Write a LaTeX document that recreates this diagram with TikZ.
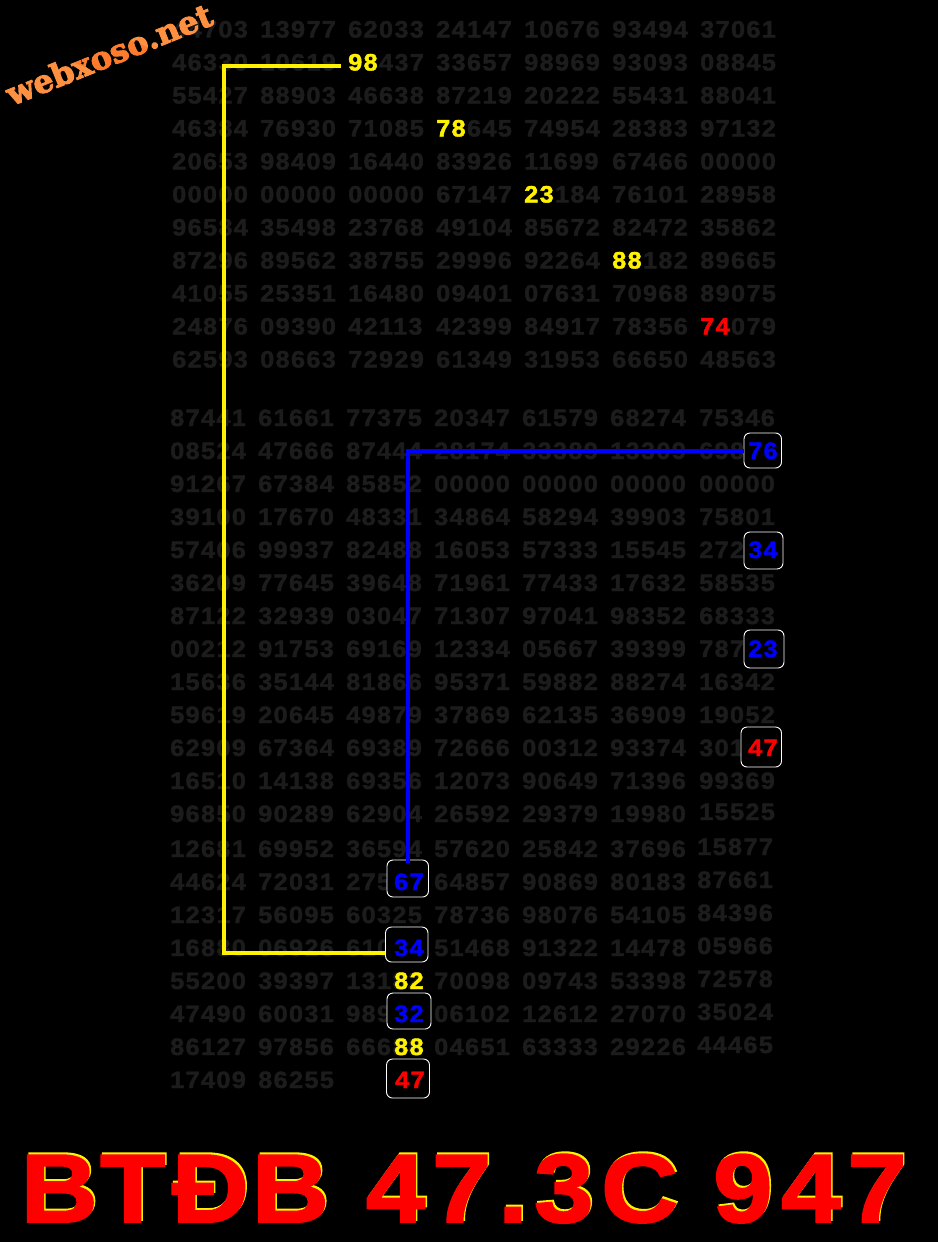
\documentclass[tikz,border=0pt]{standalone}
\usepackage{fontspec}
\usetikzlibrary{fadings}
\setmainfont{Liberation Sans}
\newfontfamily\gridfont{Liberation Sans}[LetterSpace=5.5,FakeStretch=1.07,FakeBold=1.7]
\newfontfamily\titlefont{Liberation Sans}[FakeStretch=1.1,FakeBold=2]
\newfontfamily\logofont{DejaVu Serif}[FakeBold=3]
\definecolor{griddim}{HTML}{1C1C1C}
\definecolor{logoorange}{HTML}{FF9040}
\definecolor{logodeep}{HTML}{FF681C}
\tikzset{
  dig/.style={anchor=base west,inner sep=0pt,font=\gridfont\bfseries\fontsize{23.7}{24}\selectfont},
  griddig/.style={dig,text=griddim},
  boxn/.style={draw=white,line width=0.9pt,fill=black,rounded corners=6pt,inner sep=0pt},
  yline/.style={draw=yellow,line width=4pt},
  bline/.style={draw=blue,line width=4pt},
  titletxt/.style={anchor=base west,inner sep=0pt,font=\titlefont\bfseries\fontsize{97}{97}\selectfont},
}
\newcommand{\hlbox}[9]{% name x1 y1 x2 y2 colour text tx baseline
  \node[boxn,minimum width={(#4-#2)*1pt},minimum height={(#5-#3)*1pt}] (#1) at ({(#2+#4)/2},{(#3+#5)/2}) {};
  \node[dig,text=#6] (#1t) at (#8,#9) {#7};
}
\newcommand{\titletext}{B\kern2.5ptT\kern6.5ptĐ\kern3ptB\kern7.4pt{} 4\kern6.7pt7\kern6.7pt.\kern6.4pt3\kern7.7ptC\kern5.4pt{} 9\kern8.7pt4\kern6.7pt7}
\begin{document}
\begin{tikzpicture}[x=1pt,y=-1pt]
\useasboundingbox (0,0) rectangle (938,1242);
\fill[black] (0,0) rectangle (938,1242);
% upper block
\foreach \line [count=\r] in {
 {44703,13977,62033,24147,10676,93494,37061},
 {46330,10619,98437,33657,98969,93093,08845},
 {55427,88903,46638,87219,20222,55431,88041},
 {46384,76930,71085,78645,74954,28383,97132},
 {20653,98409,16440,83926,11699,67466,00000},
 {00000,00000,00000,67147,23184,76101,28958},
 {96584,35498,23768,49104,85672,82472,35862},
 {87296,89562,38755,29996,92264,88182,89665},
 {41055,25351,16480,09401,07631,70968,89075},
 {24876,09390,42113,42399,84917,78356,74079},
 {62593,08663,72929,61349,31953,66650,48563}}{
  \foreach \v [count=\c] in \line {
    \node[griddig] (u\r-\c) at ({172+88*(\c-1)},{37.5+33*(\r-1)}) {\v};
  }
}
% lower block
\foreach \line/\by [count=\r] in {
 {87441,61661,77375,20347,61579,68274,75346}/426,
 {08524,47666,87444,28174,33389,13309,69876}/459,
 {91267,67384,85852,00000,00000,00000,00000}/492,
 {39100,17670,48331,34864,58294,39903,75801}/525,
 {57406,99937,82488,16053,57333,15545,27234}/558,
 {36209,77645,39648,71961,77433,17632,58535}/591,
 {87122,32939,03047,71307,97041,98352,68333}/624,
 {00212,91753,69169,12334,05667,39399,78723}/657,
 {15636,35144,81866,95371,59882,88274,16342}/690,
 {59619,20645,49879,37869,62135,36909,19052}/723,
 {62909,67364,69389,72666,00312,93374,30147}/756,
 {16510,14138,69356,12073,90649,71396,99369}/789,
 {96850,90289,62904,26592,29379,19980,15525}/822,
 {12681,69952,36594,57620,25842,37696,15877}/857,
 {44624,72031,27567,64857,90869,80183,87661}/890,
 {12317,56095,60325,78736,98076,54105,84396}/923,
 {16880,06926,61034,51468,91322,14478,05966}/956,
 {55200,39397,13182,70098,09743,53398,72578}/989,
 {47490,60031,98932,06102,12612,27070,35024}/1022,
 {86127,97856,66688,04651,63333,29226,44465}/1055,
 {17409,86255}/1088}{
  \foreach \v [count=\c] in \line {
    \pgfmathsetmacro{\lx}{\c==7 ? (\r>13 ? 697 : 699) : 170+88*(\c-1)}
    \pgfmathsetmacro{\ly}{\c==7 && \r>12 ? \by-2 : \by}
    \node[griddig] (l\r-\c) at (\lx,\ly) {\v};
  }
}
% logo (under the connectors, so that its tint touches nothing else)
\node[inner sep=0pt,rotate=22,text=logoorange,font=\logofont\bfseries\fontsize{32}{32}\selectfont] (logo) at (109,54) {webxoso.net};
\begin{scope}[shift={(109,54)},rotate=-22]
  \fill[logodeep,blend mode=darken,path fading=north,fading angle=22] (-113,-21) rectangle (113,21);
\end{scope}
% highlights
\node[dig,text=yellow] (n98) at (348,70.5) {98};
\node[dig,text=yellow] (n78) at (436,136.5) {78};
\node[dig,text=yellow] (n23) at (524,202.5) {23};
\node[dig,text=yellow] (n88) at (612,268.5) {88};
\node[dig,text=red] (n74) at (700,334.5) {74};
\node[dig,text=yellow] (n82) at (394,989) {82};
\node[dig,text=yellow] (n88b) at (394,1055) {88};
% boxed numbers
\hlbox{b76}{744}{433}{781.5}{468}{blue}{76}{748}{459}
\hlbox{b34r}{744}{532}{783}{569}{blue}{34}{748}{558}
\hlbox{b23}{744}{630}{784}{668}{blue}{23}{748}{657}
\hlbox{b47r}{741}{727}{781.5}{767}{red}{47}{748}{756}
\hlbox{b67}{387}{860}{428.5}{897}{blue}{67}{394}{890}
\hlbox{b34}{385.5}{927}{428}{962}{blue}{34}{394}{956}
\hlbox{b32}{387}{993}{431}{1029}{blue}{32}{394}{1022}
\hlbox{b47}{386.5}{1059}{429.5}{1098}{red}{47}{395}{1088}
% connectors
\coordinate (c1) at (224,66);
\coordinate (c2) at (224,953);
\coordinate (c3) at (408,451);
\draw[yline] ([xshift=-7pt]n98.west |- c1) -- (c1) -- (c2) -- (b34.west |- c2);
\draw[bline] (b76.west |- c3) -- (c3) -- ([yshift=-3pt]c3 |- b67.north);
% title
\node[titletxt,text=yellow] (titleback) at (22,1220) {\titletext};
\node[titletxt,text=red] (title) at (20.5,1222) {\titletext};
\end{tikzpicture}
\end{document}
